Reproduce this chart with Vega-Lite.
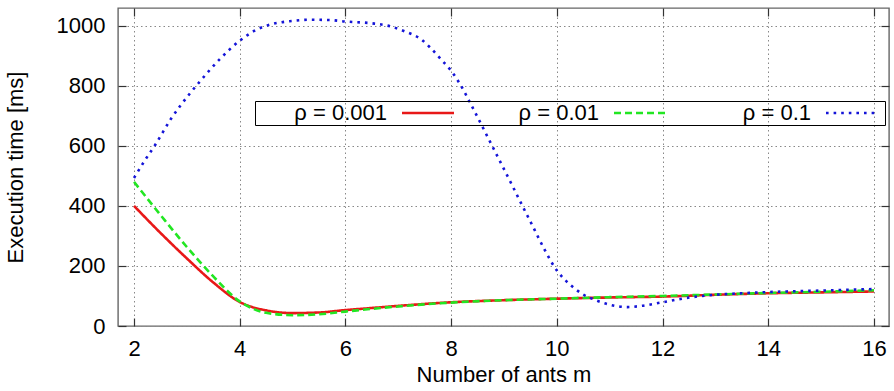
{
  "$schema": "https://vega.github.io/schema/vega-lite/v6.json",
  "autosize": "none",
  "padding": {"left": 118, "top": 8, "right": 5, "bottom": 65},
  "width": 771,
  "height": 318,
  "background": "white",
  "config": {
    "view": {"stroke": "#666", "strokeWidth": 1.4},
    "font": "Liberation Sans",
    "axis": {
      "labelFont": "Liberation Sans",
      "labelFontSize": 22,
      "labelColor": "#000",
      "titleFont": "Liberation Sans",
      "titleFontSize": 22,
      "titleFontWeight": "normal",
      "titleColor": "#000",
      "domain": false,
      "tickColor": "#333",
      "tickSize": -8,
      "tickWidth": 1.2,
      "gridColor": "#888",
      "gridDash": [1.5, 3],
      "gridWidth": 1
    },
    "legend": {
      "labelFont": "Liberation Sans",
      "labelFontSize": 22,
      "labelColor": "#000",
      "titleFont": "Liberation Sans"
    }
  },
  "data": {
    "values": [
      {"m": 2, "t": 400, "rho": "ρ = 0.001"},
      {"m": 2.5, "t": 310, "rho": "ρ = 0.001"},
      {"m": 3, "t": 225, "rho": "ρ = 0.001"},
      {"m": 3.5, "t": 145, "rho": "ρ = 0.001"},
      {"m": 4, "t": 80, "rho": "ρ = 0.001"},
      {"m": 4.5, "t": 52, "rho": "ρ = 0.001"},
      {"m": 5, "t": 43, "rho": "ρ = 0.001"},
      {"m": 5.5, "t": 45, "rho": "ρ = 0.001"},
      {"m": 6, "t": 53, "rho": "ρ = 0.001"},
      {"m": 6.5, "t": 60, "rho": "ρ = 0.001"},
      {"m": 7, "t": 67, "rho": "ρ = 0.001"},
      {"m": 8, "t": 79, "rho": "ρ = 0.001"},
      {"m": 9, "t": 86, "rho": "ρ = 0.001"},
      {"m": 10, "t": 91, "rho": "ρ = 0.001"},
      {"m": 11, "t": 95, "rho": "ρ = 0.001"},
      {"m": 12, "t": 98, "rho": "ρ = 0.001"},
      {"m": 13, "t": 104, "rho": "ρ = 0.001"},
      {"m": 14, "t": 109, "rho": "ρ = 0.001"},
      {"m": 15, "t": 112, "rho": "ρ = 0.001"},
      {"m": 16, "t": 115, "rho": "ρ = 0.001"},
      {"m": 2, "t": 480, "rho": "ρ = 0.01"},
      {"m": 2.5, "t": 370, "rho": "ρ = 0.01"},
      {"m": 3, "t": 263, "rho": "ρ = 0.01"},
      {"m": 3.5, "t": 165, "rho": "ρ = 0.01"},
      {"m": 4, "t": 82, "rho": "ρ = 0.01"},
      {"m": 4.5, "t": 44, "rho": "ρ = 0.01"},
      {"m": 5, "t": 36, "rho": "ρ = 0.01"},
      {"m": 5.5, "t": 39, "rho": "ρ = 0.01"},
      {"m": 6, "t": 48, "rho": "ρ = 0.01"},
      {"m": 6.5, "t": 57, "rho": "ρ = 0.01"},
      {"m": 7, "t": 65, "rho": "ρ = 0.01"},
      {"m": 8, "t": 78, "rho": "ρ = 0.01"},
      {"m": 9, "t": 86, "rho": "ρ = 0.01"},
      {"m": 10, "t": 91, "rho": "ρ = 0.01"},
      {"m": 11, "t": 96, "rho": "ρ = 0.01"},
      {"m": 12, "t": 100, "rho": "ρ = 0.01"},
      {"m": 13, "t": 105, "rho": "ρ = 0.01"},
      {"m": 14, "t": 110, "rho": "ρ = 0.01"},
      {"m": 15, "t": 114, "rho": "ρ = 0.01"},
      {"m": 16, "t": 119, "rho": "ρ = 0.01"},
      {"m": 2, "t": 493, "rho": "ρ = 0.1"},
      {"m": 2.2, "t": 550, "rho": "ρ = 0.1"},
      {"m": 2.4, "t": 603, "rho": "ρ = 0.1"},
      {"m": 2.7, "t": 690, "rho": "ρ = 0.1"},
      {"m": 3.06, "t": 775, "rho": "ρ = 0.1"},
      {"m": 3.25, "t": 815, "rho": "ρ = 0.1"},
      {"m": 3.63, "t": 890, "rho": "ρ = 0.1"},
      {"m": 4, "t": 950, "rho": "ρ = 0.1"},
      {"m": 4.3, "t": 985, "rho": "ρ = 0.1"},
      {"m": 4.6, "t": 1005, "rho": "ρ = 0.1"},
      {"m": 5, "t": 1016, "rho": "ρ = 0.1"},
      {"m": 5.3, "t": 1020, "rho": "ρ = 0.1"},
      {"m": 5.7, "t": 1019, "rho": "ρ = 0.1"},
      {"m": 6, "t": 1014, "rho": "ρ = 0.1"},
      {"m": 6.5, "t": 1008, "rho": "ρ = 0.1"},
      {"m": 6.85, "t": 998, "rho": "ρ = 0.1"},
      {"m": 7.14, "t": 980, "rho": "ρ = 0.1"},
      {"m": 7.43, "t": 955, "rho": "ρ = 0.1"},
      {"m": 7.6, "t": 928, "rho": "ρ = 0.1"},
      {"m": 7.85, "t": 880, "rho": "ρ = 0.1"},
      {"m": 8, "t": 850, "rho": "ρ = 0.1"},
      {"m": 8.17, "t": 805, "rho": "ρ = 0.1"},
      {"m": 8.36, "t": 743, "rho": "ρ = 0.1"},
      {"m": 8.64, "t": 647, "rho": "ρ = 0.1"},
      {"m": 8.92, "t": 550, "rho": "ρ = 0.1"},
      {"m": 9.17, "t": 463, "rho": "ρ = 0.1"},
      {"m": 9.3, "t": 417, "rho": "ρ = 0.1"},
      {"m": 9.53, "t": 337, "rho": "ρ = 0.1"},
      {"m": 9.76, "t": 257, "rho": "ρ = 0.1"},
      {"m": 10, "t": 185, "rho": "ρ = 0.1"},
      {"m": 10.12, "t": 160, "rho": "ρ = 0.1"},
      {"m": 10.35, "t": 123, "rho": "ρ = 0.1"},
      {"m": 10.5, "t": 105, "rho": "ρ = 0.1"},
      {"m": 10.72, "t": 87, "rho": "ρ = 0.1"},
      {"m": 11, "t": 71, "rho": "ρ = 0.1"},
      {"m": 11.33, "t": 63, "rho": "ρ = 0.1"},
      {"m": 11.6, "t": 67, "rho": "ρ = 0.1"},
      {"m": 12, "t": 79, "rho": "ρ = 0.1"},
      {"m": 12.4, "t": 92, "rho": "ρ = 0.1"},
      {"m": 13, "t": 104, "rho": "ρ = 0.1"},
      {"m": 13.5, "t": 109, "rho": "ρ = 0.1"},
      {"m": 14, "t": 113, "rho": "ρ = 0.1"},
      {"m": 15, "t": 118, "rho": "ρ = 0.1"},
      {"m": 16, "t": 123, "rho": "ρ = 0.1"}
    ]
  },
  "layer": [
    {
      "mark": {"type": "line", "interpolate": "monotone", "strokeWidth": 2.6, "clip": true},
      "encoding": {
        "x": {
          "field": "m", "type": "quantitative",
          "scale": {"domain": [1.697, 16.284], "nice": false, "zero": false},
          "axis": {"values": [2, 4, 6, 8, 10, 12, 14, 16], "title": "Number of ants m", "labelPadding": 20, "titlePadding": 5, "grid": true}
        },
        "y": {
          "field": "t", "type": "quantitative",
          "scale": {"domain": [0, 1059], "nice": false, "zero": true},
          "axis": {"values": [0, 200, 400, 600, 800, 1000], "format": "d", "title": "Execution time [ms]", "labelPadding": 21, "titlePadding": 29, "grid": true}
        },
        "color": {
          "field": "rho", "type": "nominal",
          "scale": {"domain": ["ρ = 0.001", "ρ = 0.01", "ρ = 0.1"], "range": ["#e81818", "#22e622", "#1414d8"]},
          "legend": {
            "orient": "none",
            "legendX": 137,
            "legendY": 93,
            "direction": "horizontal",
            "title": "\u00a0",
            "titleOrient": "left",
            "titlePadding": 37,
            "titleFontSize": 22,
            "strokeColor": "#000",
            "padding": 1,
            "symbolType": "M-4,0H4",
            "symbolSize": 169,
            "symbolStrokeWidth": 2.6,
            "symbolOffset": 124,
            "labelAlign": "right",
            "labelOffset": -52,
            "columnPadding": 45,
            "gridAlign": "all"
          }
        },
        "strokeDash": {
          "field": "rho", "type": "nominal",
          "scale": {"domain": ["ρ = 0.001", "ρ = 0.01", "ρ = 0.1"], "range": [[1, 0], [7, 4], [2.6, 5]]},
          "legend": null
        }
      }
    },
    {
      "mark": {"type": "line", "strokeOpacity": 0},
      "encoding": {
        "x": {"field": "m", "type": "quantitative", "axis": {"values": [2, 4, 6, 8, 10, 12, 14, 16], "labels": false, "title": null, "grid": false, "orient": "top"}},
        "y": {"field": "t", "type": "quantitative", "axis": {"values": [0, 200, 400, 600, 800, 1000], "labels": false, "title": null, "grid": false, "orient": "right"}},
        "detail": {"field": "rho", "type": "nominal"}
      }
    }
  ],
  "resolve": {"axis": {"x": "independent", "y": "independent"}}
}
